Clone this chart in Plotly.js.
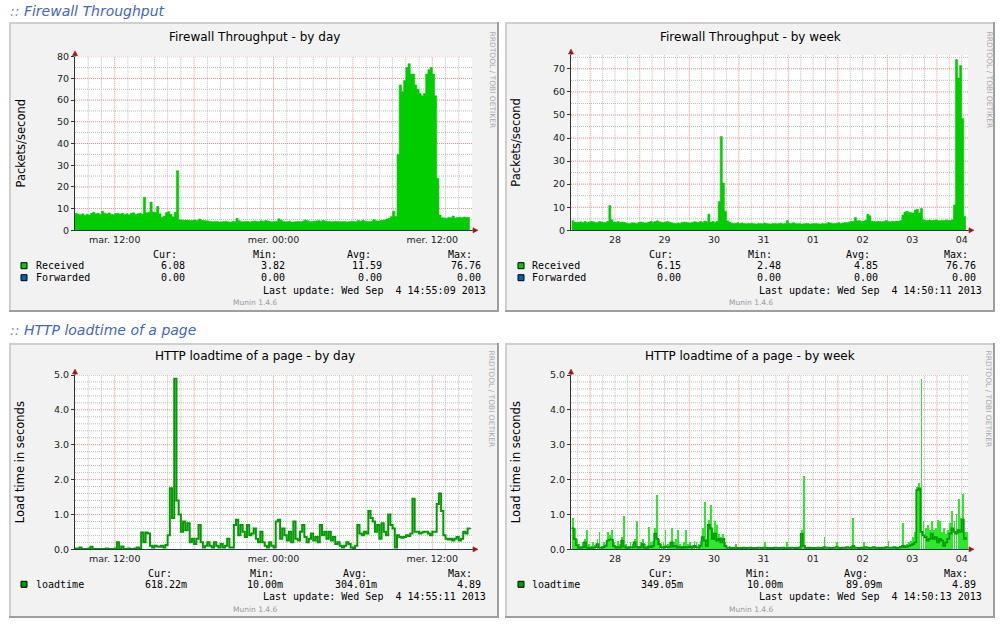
<!DOCTYPE html>
<html>
<head>
<meta charset="utf-8">
<script src="https://cdn.plot.ly/plotly-3.0.1.min.js"></script>
<style>
html,body{margin:0;padding:0;background:#ffffff;}
#chart{width:1000px;height:628px;}
</style>
</head>
<body>
<div id="chart"></div>
<script>
// ================= DATA =================
// Firewall Throughput - by day : packets/second, 10-minute samples starting Tue 3 Sep 09:00
const fwDayStart = '2013-09-03 09:00';
const fwDayStepMin = 10;
const fwDayReceived = [
  7.8,7.5,7.2,7.6,6.9,7.4,7.1,7.8,8.3,7.6,7.9,7.3,
  8.8,7.9,7.6,8.0,7.4,7.2,7.7,7.9,7.5,7.8,7.3,7.6,
  7.2,7.8,8.1,7.4,7.6,7.9,7.5,15.2,8.1,8.3,13.0,8.4,
  8.2,11.0,7.6,6.0,6.6,8.2,8.6,7.4,6.2,8.3,27.5,4.8,
  4.7,4.6,4.7,4.6,4.5,4.6,4.7,4.5,5.2,4.6,4.5,4.4,
  4.3,4.1,3.9,4.0,4.1,3.8,3.9,4.0,4.2,3.9,3.8,4.0,
  4.1,5.5,4.4,4.0,3.9,4.1,4.0,3.8,4.2,4.3,4.1,4.0,
  4.4,4.2,4.5,4.3,4.0,3.9,4.1,4.2,5.3,4.6,4.1,3.9,
  4.0,4.2,3.8,3.9,4.1,4.0,3.9,4.3,4.8,4.4,4.1,4.0,
  4.2,4.3,4.5,4.2,4.6,4.3,4.1,4.0,3.9,4.1,4.2,4.0,
  3.9,4.1,4.0,3.8,4.0,4.2,4.1,3.9,4.5,4.2,4.6,4.3,
  4.1,4.0,4.2,4.9,4.4,4.3,4.5,4.6,4.8,5.2,5.6,6.4,
  8.8,6.5,35,67,64,69,75,76.76,72,72,67,65,
  63,62,63,72,74,75,72,62,24,7.0,5.8,5.7,
  5.6,5.9,5.8,6.6,5.7,5.9,6.0,5.8,6.1,6.0,5.9,6.08
];

// Firewall Throughput - by week : hourly samples starting Tue 27 Aug 15:00
const fwWeekStart = '2013-08-27 15:00';
const fwWeekStepMin = 60;
const fwWeekReceived = [
  4.2,3.6,3.4,3.5,3.7,3.4,3.8,3.5,3.6,3.9,3.7,3.5,
  3.4,3.8,3.6,3.5,3.4,3.9,10.8,4.6,3.6,3.5,3.8,3.4,
  3.6,3.5,3.2,3.0,3.1,3.3,3.2,3.0,3.4,3.6,3.5,3.2,
  3.3,3.6,3.9,3.5,3.8,4.1,3.7,3.5,3.4,3.6,3.8,3.5,
  3.3,3.1,3.0,3.2,3.1,3.4,3.6,3.5,3.3,3.2,3.5,3.7,
  3.6,3.4,3.8,3.5,4.0,3.7,7.0,3.6,3.8,3.5,3.9,12.5,
  40.7,20.5,8.3,4.1,3.6,3.2,3.0,3.1,3.3,2.9,3.2,3.0,
  2.8,3.0,2.9,3.1,2.8,2.7,3.0,2.9,2.8,3.2,2.9,2.8,
  2.7,2.9,3.0,2.8,2.9,3.1,2.8,3.0,4.2,3.1,2.9,3.3,
  3.0,2.8,2.9,2.7,2.8,3.0,2.9,2.7,2.8,2.9,3.0,2.8,
  2.7,2.9,2.8,3.0,3.4,3.2,3.0,2.9,3.1,3.3,3.0,3.2,
  3.4,3.3,3.6,3.8,3.9,5.6,4.1,4.2,3.9,4.0,4.4,7.0,
  6.3,4.0,3.8,3.7,3.9,3.8,3.7,3.9,4.3,3.8,3.7,3.9,
  3.8,4.0,3.9,4.2,6.6,7.9,8.3,7.8,7.6,7.5,8.8,9.1,
  7.6,9.5,4.6,4.4,4.3,4.5,4.2,4.4,4.5,4.3,4.1,4.4,
  4.3,4.5,4.4,4.2,4.6,11.0,74.0,66.0,71.5,48.5,6.0,6.15
];

// HTTP loadtime of a page - by day : seconds, 10-minute samples starting Tue 3 Sep 09:00
const httpDayStart = '2013-09-03 09:00';
const httpDayStepMin = 10;
const httpDayLoadtime = [
  0.02,0.01,0.05,0.01,0.01,0.01,0.02,0.07,0.01,0.01,0.01,0.01,
  0.01,0.01,0.02,0.01,0.01,0.01,0.02,0.2,0.02,0.08,0.01,0.01,
  0.02,0.01,0.01,0.02,0.05,0.02,0.48,0.2,0.48,0.45,0.1,0.05,
  0.1,0.08,0.07,0.1,0.05,0.12,0.4,1.75,0.9,4.89,1.4,1.0,
  0.5,0.8,0.55,0.75,0.2,0.3,0.15,0.3,0.7,0.2,0.05,0.1,
  0.2,0.1,0.05,0.2,0.1,0.05,0.15,0.05,0.1,0.3,0.05,0.05,
  0.7,0.85,0.4,0.7,0.5,0.35,0.7,0.4,0.45,0.6,0.3,0.2,
  0.5,0.2,0.1,0.05,0.2,0.1,0.05,0.8,0.85,0.3,0.6,0.4,
  0.25,0.5,0.2,0.8,0.3,0.25,0.5,0.7,0.35,0.2,0.3,0.45,
  0.25,0.35,0.2,0.7,0.4,0.5,0.3,0.5,0.25,0.35,0.15,0.2,
  0.1,0.05,0.1,0.2,0.15,0.05,0.03,0.1,0.7,0.45,0.4,0.5,
  0.45,1.1,0.9,0.8,0.5,0.7,0.3,0.75,0.5,0.4,1.0,0.7,
  0.6,0.05,0.4,0.35,0.33,0.35,0.4,0.38,0.45,1.45,0.5,0.5,
  0.45,0.48,0.5,0.5,0.45,0.4,0.5,0.5,1.3,1.6,1.1,0.4,
  0.3,0.28,0.3,0.25,0.3,0.35,0.25,0.3,0.5,0.45,0.6,0.618
];

// HTTP loadtime of a page - by week : hourly samples starting Tue 27 Aug 15:00
const httpWeekStart = '2013-08-27 15:00';
const httpWeekStepMin = 60;
const httpWeekAvg = [
  0.6,0.3,0.12,0.05,0.04,0.06,0.2,0.05,0.04,0.03,0.05,0.06,
  0.15,0.05,0.04,0.06,0.1,0.25,0.28,0.28,0.1,0.05,0.06,0.05,
  0.25,0.08,0.05,0.04,0.06,0.05,0.2,0.07,0.05,0.06,0.15,0.05,
  0.04,0.08,0.06,0.1,0.45,0.3,0.15,0.06,0.05,0.08,0.06,0.07,
  0.2,0.08,0.1,0.05,0.06,0.04,0.07,0.05,0.06,0.08,0.05,0.1,
  0.06,0.05,0.1,0.35,0.25,0.1,0.7,0.6,0.3,0.45,0.25,0.3,
  0.2,0.3,0.1,0.04,0.05,0.03,0.04,0.05,0.03,0.04,0.03,0.05,
  0.03,0.04,0.05,0.03,0.04,0.03,0.05,0.04,0.03,0.05,0.04,0.03,
  0.04,0.03,0.05,0.04,0.03,0.04,0.05,0.03,0.04,0.03,0.05,0.04,
  0.03,0.05,0.04,0.44,0.1,0.04,0.03,0.05,0.04,0.03,0.04,0.05,
  0.04,0.03,0.06,0.04,0.05,0.03,0.04,0.05,0.06,0.04,0.03,0.05,
  0.04,0.06,0.05,0.04,0.1,0.05,0.04,0.03,0.05,0.04,0.06,0.05,
  0.04,0.05,0.06,0.04,0.05,0.03,0.05,0.04,0.06,0.05,0.04,0.05,
  0.06,0.04,0.05,0.07,0.1,0.06,0.08,0.1,0.12,0.15,0.2,1.7,
  1.75,0.5,0.4,0.35,0.25,0.3,0.45,0.3,0.35,0.2,0.3,0.25,
  0.1,0.2,0.3,0.45,0.6,0.5,0.45,0.55,0.5,0.85,0.3,0.35
];
const httpWeekMax = [
  0.9,0.6,0.3,0.15,0.1,0.2,0.3,0.55,0.15,0.1,0.2,0.12,
  0.3,0.5,0.1,0.2,0.15,0.5,0.4,0.55,0.2,0.1,0.25,0.15,
  0.35,0.95,0.15,0.1,0.2,0.15,0.3,0.8,0.1,0.2,0.3,0.15,
  0.1,0.65,0.2,0.25,0.6,1.57,0.3,0.15,0.2,0.55,0.15,0.2,
  0.6,0.2,0.3,0.55,0.15,0.1,0.2,0.55,0.15,0.2,0.1,0.25,
  0.2,0.15,0.25,0.6,1.35,0.3,0.85,1.28,0.5,0.8,0.7,0.45,
  0.35,0.45,0.2,0.08,0.1,0.06,0.08,0.15,0.06,0.05,0.08,0.06,
  0.05,0.07,0.06,0.05,0.06,0.08,0.05,0.06,0.07,0.2,0.05,0.06,
  0.07,0.05,0.06,0.08,0.05,0.06,0.07,0.05,0.2,0.06,0.05,0.07,
  0.05,0.08,0.1,0.55,2.1,0.08,0.06,0.07,0.05,0.06,0.08,0.05,
  0.06,0.07,0.35,0.05,0.06,0.08,0.05,0.06,0.2,0.07,0.05,0.06,
  0.07,0.08,0.06,0.1,0.9,0.08,0.06,0.07,0.05,0.2,0.08,0.06,
  0.05,0.07,0.08,0.06,0.07,0.05,0.08,0.06,0.07,0.25,0.06,0.08,
  0.07,0.06,0.08,0.1,0.75,0.12,0.15,0.2,0.25,0.35,0.5,1.8,
  1.9,4.89,0.8,0.6,0.7,0.55,0.8,0.55,0.6,0.85,0.8,0.5,
  0.6,0.45,0.55,0.75,1.1,0.8,1.0,1.45,0.9,1.6,0.5,0.5
];

// Axes / tick labels
const dayRange = ['2013-09-03 09:00', '2013-09-04 15:00'];
const weekRange = ['2013-08-27 14:41', '2013-09-04 15:03'];
const dayTickVals = ['2013-09-03 12:00','2013-09-03 18:00','2013-09-04 00:00','2013-09-04 06:00','2013-09-04 12:00'];
const dayTickText = ['mar. 12:00','','mer. 00:00','','mer. 12:00'];
const weekFirstMidnight = '2013-08-28 00:00';
const weekTickFormat = '%d';

// Legend texts
const statHeaders = ['Cur:','Min:','Avg:','Max:'];
const fwDayReceivedStats  = ['6.08','3.82','11.59','76.76'];
const fwDayForwardedStats = ['0.00','0.00','0.00','0.00'];
const fwWeekReceivedStats  = ['6.15','2.48','4.85','76.76'];
const fwWeekForwardedStats = ['0.00','0.00','0.00','0.00'];
const httpDayStats  = ['618.22m','10.00m','304.01m','4.89'];
const httpWeekStats = ['349.05m','10.00m','89.09m','4.89'];
const lastUpdates = ['Wed Sep  4 14:55:09 2013','Wed Sep  4 14:50:11 2013','Wed Sep  4 14:55:11 2013','Wed Sep  4 14:50:13 2013'];

// ================= HELPERS =================
const W = 1000, H = 628;
const px = x => x / W;
const py = y => 1 - y / H;
const COL = {received:'#00cc00', forwarded:'#0066b3', load:'#009c00', loadMax:'#2ee82e'};
const GRID_MAJOR = '#f08a8a';
const GRID_MINOR = '#bcbcbc';
const DASH = '1px,1px';
const FONT = 'DejaVu Sans, Verdana, sans-serif';
const MONO = 'DejaVu Sans Mono, monospace';

function times(start, stepMin, n) {
  const [d, t] = start.split(' ');
  const [Y, M, D] = d.split('-').map(Number);
  const [h, m] = t.split(':').map(Number);
  const t0 = Date.UTC(Y, M - 1, D, h, m);
  const out = [];
  for (let i = 0; i < n; i++) {
    out.push(new Date(t0 + i * stepMin * 60000).toISOString().slice(0, 16).replace('T', ' '));
  }
  return out;
}
function minorTimes(start, stepMin, n, majorEveryMin) {
  return times(start, stepMin, n).filter(s => {
    const hh = Number(s.slice(11, 13)), mm = Number(s.slice(14, 16));
    return ((hh * 60 + mm) % majorEveryMin) !== 0;
  });
}
function stepVals(max, step, skipStep) {
  const out = [];
  const n = Math.floor(max / step + 1e-9);
  for (let k = 1; k <= n; k++) {
    const v = +(k * step).toFixed(4);
    if (skipStep && Math.abs(v / skipStep - Math.round(v / skipStep)) < 1e-6) continue;
    out.push(v);
  }
  return out;
}

const ann = [];
const shp = [];
function T(x, y, text, o) {
  const a = {xref:'paper', yref:'paper', x:px(x), y:py(y), text:text, showarrow:false,
    xanchor:'center', yanchor:'middle', borderpad:0,
    font:{family:FONT, size:12, color:'#000'}};
  ann.push(Object.assign(a, o || {}));
}
function R(x0, y0, x1, y1, fill, line, layer) {
  shp.push({type:'rect', xref:'paper', yref:'paper', x0:px(x0), x1:px(x1), y0:py(y1), y1:py(y0),
    fillcolor:fill, line:line || {width:0}, layer:layer || 'below'});
}
function L(x0, y0, x1, y1, color, w, layer) {
  shp.push({type:'line', xref:'paper', yref:'paper', x0:px(x0), y0:py(y0), x1:px(x1), y1:py(y1),
    line:{color:color, width:w}, layer:layer || 'below'});
}
function P(pts, color) {
  shp.push({type:'path', xref:'paper', yref:'paper',
    path:'M ' + pts.map(p => px(p[0]) + ',' + py(p[1])).join(' L ') + ' Z',
    fillcolor:color, line:{color:color, width:0.5}, layer:'above'});
}
// grid lines placed in data coordinates of a subplot (drawn through the axes' scales)
function grid(xr, yr, xMajor, xMinor, yMajor, yMinor) {
  const vx = (v, c) => shp.push({type:'line', xref:xr, yref:yr + ' domain', x0:v, x1:v, y0:0, y1:1,
    line:{color:c, width:1, dash:DASH}, layer:'below'});
  const hy = (v, c) => shp.push({type:'line', xref:xr + ' domain', yref:yr, x0:0, x1:1, y0:v, y1:v,
    line:{color:c, width:1, dash:DASH}, layer:'below'});
  xMinor.forEach(v => vx(v, GRID_MINOR));
  yMinor.forEach(v => hy(v, GRID_MINOR));
  xMajor.forEach(v => vx(v, GRID_MAJOR));
  yMajor.forEach(v => hy(v, GRID_MAJOR));
}

// ================= PANELS (layout geometry) =================
const panels = [
  {box:[9,22,499,312],  plot:[75,56.7,472,230.3],  title:'Firewall Throughput - by day',  titleX:254.5, titleY:37,
   ytitle:'Packets/second', wmX:491.5, wmY:80},
  {box:[505,22,995,312], plot:[571,55,968,230.3],  title:'Firewall Throughput - by week', titleX:750, titleY:37,
   ytitle:'Packets/second', wmX:988.5, wmY:80},
  {box:[9,343,499,618], plot:[75,375,472,549.3],  title:'HTTP loadtime of a page - by day',  titleX:254.5, titleY:355.7,
   ytitle:'Load time in seconds', wmX:491.5, wmY:399},
  {box:[505,343,995,618], plot:[571,375,968,549.3], title:'HTTP loadtime of a page - by week', titleX:750, titleY:356,
   ytitle:'Load time in seconds', wmX:988.5, wmY:399}
];

// section headers
T(9, 11, '<i><span style="color:#7a8fbf">::</span> Firewall Throughput</i>', {xanchor:'left', font:{family:FONT, size:14, color:'#4467bb'}});
T(9, 330, '<i><span style="color:#7a8fbf">::</span> HTTP loadtime of a page</i>', {xanchor:'left', font:{family:FONT, size:14, color:'#4467bb'}});

panels.forEach(p => {
  const [bx0, by0, bx1, by1] = p.box;
  const [x0, y0, x1, y1] = p.plot;
  R(bx0, by0, bx1, by1, '#f2f2f2');
  L(bx0, by0 + 1, bx1, by0 + 1, '#cfcfcf', 2);
  L(bx0 + 1, by0, bx0 + 1, by1, '#cfcfcf', 2);
  L(bx0, by1 - 1, bx1, by1 - 1, '#9e9e9e', 2);
  L(bx1 - 1, by0, bx1 - 1, by1, '#9e9e9e', 2);
  R(x0, y0, x1, y1, '#ffffff');
  L(x1, y1, x1 + 2, y1, '#333', 1, 'above');
  P([[x1 + 1, y1 - 2.6], [x1 + 6, y1], [x1 + 1, y1 + 2.6]], '#a01818');
  L(x0, y0, x0, y0 - 2, '#333', 1, 'above');
  P([[x0 - 2.6, y0 - 1], [x0, y0 - 6], [x0 + 2.6, y0 - 1]], '#a01818');
  T(p.titleX, p.titleY, p.title, {font:{family:FONT, size:12, color:'#000'}});
  T(bx0 + 11, (y0 + y1) / 2, p.ytitle, {textangle:-90, font:{family:FONT, size:11.5, color:'#000'}});
  T(p.wmX, p.wmY, 'RRDTOOL / TOBI OETIKER', {textangle:90, font:{family:FONT, size:7.5, color:'#aaaaaa'}});
});

// grids
const dayMinorGrid = minorTimes('2013-09-03 10:00', 60, 29, 360);
const weekMajorGrid = times(weekFirstMidnight, 1440, 8);
const weekMinorGrid = minorTimes('2013-08-27 18:00', 360, 32, 1440);
grid('x',  'y',  dayTickVals,   dayMinorGrid,  stepVals(80, 10), stepVals(80, 5, 10));
grid('x2', 'y2', weekMajorGrid, weekMinorGrid, stepVals(76, 10), stepVals(76, 5, 10));
grid('x3', 'y3', dayTickVals,   dayMinorGrid,  stepVals(5, 1),   stepVals(5, 0.2, 1));
grid('x4', 'y4', weekMajorGrid, weekMinorGrid, stepVals(5, 1),   stepVals(5, 0.2, 1));

// ================= LEGENDS =================
const mono = {family:MONO, size:10, color:'#000'};
function legendBlock(o) {
  statHeaders.forEach((h, k) => T(o.headRight[k], o.headY, h, {xanchor:'right', font:mono}));
  o.rows.forEach(r => {
    R(o.swX, r.y - 3, o.swX + 6, r.y + 3, r.color, {color:'#000', width:1}, 'above');
    T(o.nameX, r.y, r.name, {xanchor:'left', font:mono});
    r.stats.forEach((v, k) => T(o.valRight[k], r.y, v, {xanchor:'right', font:mono}));
  });
  T(o.luRight, o.luY, ('Last update: ' + o.lu).replace(/  /g, '\u00a0\u00a0'), {xanchor:'right', font:mono});
  T(o.munX, o.munY, 'Munin 1.4.6', {font:{family:FONT, size:7.5, color:'#9a9a9a'}});
}
legendBlock({headY:254, headRight:[178,278,372,473], valRight:[186,286,383,482], swX:21, nameX:35,
  rows:[{y:265.7, name:'Received', color:COL.received, stats:fwDayReceivedStats},
        {y:277.7, name:'Forwarded', color:COL.forwarded, stats:fwDayForwardedStats}],
  luRight:487, luY:290, lu:lastUpdates[0], munX:255, munY:302});
legendBlock({headY:254, headRight:[674,773,871,969], valRight:[682,782,879,977], swX:518, nameX:531,
  rows:[{y:265.7, name:'Received', color:COL.received, stats:fwWeekReceivedStats},
        {y:277.7, name:'Forwarded', color:COL.forwarded, stats:fwWeekForwardedStats}],
  luRight:983, luY:290, lu:lastUpdates[1], munX:751, munY:302});
legendBlock({headY:573.3, headRight:[173,275,368,473], valRight:[188,284,378,482], swX:21, nameX:35,
  rows:[{y:584.3, name:'loadtime', color:COL.load, stats:httpDayStats}],
  luRight:487, luY:596.7, lu:lastUpdates[2], munX:255, munY:609.3});
legendBlock({headY:573.3, headRight:[674,771,869,969], valRight:[684,784,883,977], swX:518, nameX:531,
  rows:[{y:584.3, name:'loadtime', color:COL.load, stats:httpWeekStats}],
  luRight:983, luY:596.7, lu:lastUpdates[3], munX:751, munY:609.3});

// ================= AXES =================
const tickFont = {family:FONT, size:9.5, color:'#222'};
function xDay(p, anchor) {
  return {domain:[px(p.plot[0]), px(p.plot[2])], anchor:anchor, type:'date', range:dayRange,
    tickmode:'array', tickvals:dayTickVals, ticktext:dayTickText, showgrid:false,
    showline:true, linecolor:'#2a3550', linewidth:1, ticks:'', zeroline:false,
    tickfont:tickFont, fixedrange:true};
}
function xWeek(p, anchor) {
  return {domain:[px(p.plot[0]), px(p.plot[2])], anchor:anchor, type:'date', range:weekRange,
    tickmode:'linear', tick0:weekFirstMidnight, dtick:86400000, tickformat:weekTickFormat,
    ticklabelmode:'period', showgrid:false,
    showline:true, linecolor:'#2a3550', linewidth:1, ticks:'', zeroline:false,
    tickfont:tickFont, fixedrange:true};
}
function yAx(p, anchor, range, dtick, fmt) {
  return {domain:[py(p.plot[3]), py(p.plot[1])], anchor:anchor, range:range,
    tickmode:'linear', tick0:0, dtick:dtick, tickformat:fmt, showgrid:false,
    showline:true, linecolor:'#333', linewidth:1, ticks:'outside', ticklen:3, tickcolor:'#333',
    zeroline:false, tickfont:tickFont, fixedrange:true};
}

// ================= TRACES =================
const weekTimes = times(httpWeekStart, httpWeekStepMin, httpWeekMax.length);
const data = [
  {type:'scatter', mode:'lines', xaxis:'x', yaxis:'y', name:'Received',
   x:times(fwDayStart, fwDayStepMin, fwDayReceived.length), y:fwDayReceived,
   line:{shape:'hv', width:0.6, color:COL.received}, fill:'tozeroy', fillcolor:COL.received, hoverinfo:'skip'},
  {type:'scatter', mode:'lines', xaxis:'x2', yaxis:'y2', name:'Received',
   x:times(fwWeekStart, fwWeekStepMin, fwWeekReceived.length), y:fwWeekReceived,
   line:{shape:'hv', width:0.6, color:COL.received}, fill:'tozeroy', fillcolor:COL.received, hoverinfo:'skip'},
  {type:'scatter', mode:'lines', xaxis:'x3', yaxis:'y3', name:'loadtime',
   x:times(httpDayStart, httpDayStepMin, httpDayLoadtime.length), y:httpDayLoadtime,
   line:{shape:'hv', width:2, color:COL.load}, hoverinfo:'skip'},
  {type:'bar', xaxis:'x4', yaxis:'y4', name:'loadtime max',
   x:weekTimes, y:httpWeekMax, width:0.9 * 3600000, offset:0.05 * 3600000,
   marker:{color:COL.loadMax, line:{width:0}}, hoverinfo:'skip'},
  {type:'scatter', mode:'lines', xaxis:'x4', yaxis:'y4', name:'loadtime',
   x:weekTimes, y:httpWeekAvg,
   line:{shape:'hv', width:1.8, color:COL.load}, hoverinfo:'skip'}
];

const layout = {
  width:W, height:H, margin:{l:0, r:0, t:0, b:0},
  paper_bgcolor:'#ffffff', plot_bgcolor:'rgba(0,0,0,0)',
  showlegend:false, bargap:0,
  font:{family:FONT, size:10, color:'#000'},
  xaxis:  xDay(panels[0], 'y'),
  yaxis:  yAx(panels[0], 'x', [0, 80], 10, 'd'),
  xaxis2: xWeek(panels[1], 'y2'),
  yaxis2: yAx(panels[1], 'x2', [0, 76], 10, 'd'),
  xaxis3: xDay(panels[2], 'y3'),
  yaxis3: yAx(panels[2], 'x3', [0, 5], 1, '.1f'),
  xaxis4: xWeek(panels[3], 'y4'),
  yaxis4: yAx(panels[3], 'x4', [0, 5], 1, '.1f'),
  shapes:shp,
  annotations:ann
};

Plotly.newPlot('chart', data, layout, {staticPlot:true, displayModeBar:false});
</script>
</body>
</html>
